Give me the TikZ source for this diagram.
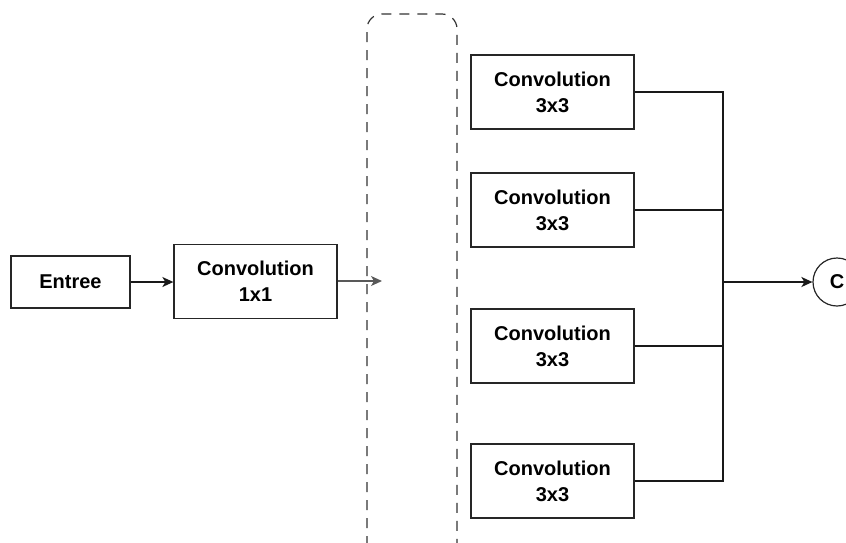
\documentclass[tikz,border=0pt]{standalone}
\usepackage{fontspec}
\setmainfont{Liberation Sans}
\usetikzlibrary{arrows.meta}
\begin{document}
\begin{tikzpicture}[x=1pt,y=-1pt,
  box/.style={draw=black!85,line width=1.3pt,minimum width=163pt,minimum height=74pt,inner sep=0pt,align=center,
    font=\fontsize{20}{26}\selectfont\bfseries},
  conn/.style={draw=black!90,line width=1.3pt},
  arr/.style={conn,-{Stealth[length=11pt,width=10pt,inset=3pt]}}]
\useasboundingbox (0,0) rectangle (846,542);
\begin{scope}
\clip (0,0) rectangle (846,542);
\draw[black!80,line width=1.2pt,dash pattern=on 10pt off 8pt,rounded corners=15pt]
  (367,600) -- (367,14) -- (457,14) -- (457,600);
\node[draw=black!85,line width=1.2pt,circle,minimum size=48pt,inner sep=0pt,font=\fontsize{20}{24}\selectfont\bfseries] (C) at (837,282) {C};
\end{scope}
\node[box,minimum width=119pt,minimum height=52pt] (in) at (70.5,282) {Entree};
\node[box] (c1) at (255.5,281.5) {Convolution\\1x1};
\node[box] (b1) at (552.5,92) {Convolution\\3x3};
\node[box] (b2) at (552.5,210) {Convolution\\3x3};
\node[box] (b3) at (552.5,346) {Convolution\\3x3};
\node[box] (b4) at (552.5,481) {Convolution\\3x3};
\coordinate (d) at (382,281);
\coordinate (j) at (723,282);
\draw[arr] (in.east) -- (c1.west |- in.east);
\draw[arr,black!65] (c1.east |- d) -- (d);
\draw[conn] (b1.east) -| (j);
\draw[conn] (b4.east) -| (j);
\draw[conn] (b2.east) -- (b2.east -| j);
\draw[conn] (b3.east) -- (b3.east -| j);
\draw[arr,line width=1.8pt] (j) -- (C.west);
\end{tikzpicture}
\end{document}
